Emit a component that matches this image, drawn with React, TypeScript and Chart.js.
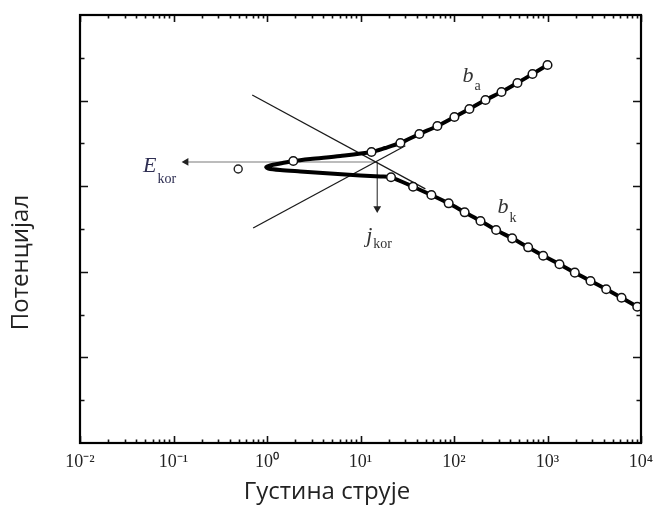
import React, { useEffect, useRef } from "react";
import { Chart, registerables } from "chart.js";

Chart.register(...registerables);

// ---- axes ----
const xDecades = [0.01, 0.1, 1, 10, 100, 1000, 10000];
const xTickLabels = ["10⁻²", "10⁻¹", "10⁰", "10¹", "10²", "10³", "10⁴"];
const xMinorMultipliers = [2, 3, 4, 5, 6, 7, 8, 9];
const yMajorTicks = [1, 2, 3, 4];
const yMinorTicks = [0.5, 1.5, 2.5, 3.5, 4.5];

// ---- measured points (open circles) ----
const anodicX = [1.91, 13.1, 26.7, 42.6, 66.4, 101, 146, 217, 322, 477, 691, 1000];
const anodicY = [3.294, 3.4, 3.505, 3.61, 3.703, 3.808, 3.902, 4.007, 4.1, 4.206, 4.311, 4.416];
const cathodicX = [21.2, 36.5, 57.3, 87.7, 130, 192, 282, 419, 621, 899, 1343, 1959, 2884, 4246, 6194, 9120];
const cathodicY = [3.104, 2.994, 2.897, 2.8, 2.695, 2.593, 2.488, 2.391, 2.286, 2.188, 2.088, 1.99, 1.893, 1.796, 1.697, 1.592];
const strayX = [0.492];
const strayY = [3.201];

// ---- thick polarisation curve (upper branch -> nose -> lower branch) ----
const curveX = [1000, 691, 477, 322, 217, 146, 101, 66.4, 42.6, 26.7, 18.4, 13.1, 6.08, 2.9, 1.91, 1.38, 1.08, 0.98, 1.03, 1.38, 2.27, 4.75, 9.96, 16.3,
  21.2, 36.5, 57.3, 87.7, 130, 192, 282, 419, 621, 899, 1343, 1959, 2884, 4246, 6194, 9120];
const curveY = [4.416, 4.311, 4.206, 4.1, 4.007, 3.902, 3.808, 3.703, 3.61, 3.505, 3.446, 3.4, 3.353, 3.318, 3.294, 3.265, 3.242, 3.224, 3.207, 3.189, 3.172, 3.148, 3.125, 3.113,
  3.104, 2.994, 2.897, 2.8, 2.695, 2.593, 2.488, 2.391, 2.286, 2.188, 2.088, 1.99, 1.893, 1.796, 1.697, 1.592];

// ---- Tafel extrapolation lines ----
const tafelCathodicX = [0.695, 49.4];
const tafelCathodicY = [4.065, 2.968];
const tafelAnodicX = [0.711, 30.2];
const tafelAnodicY = [2.512, 3.472];

// ---- arrows (E_kor, j_kor) ----
const eArrowX = [15.1, 0.1365];
const eArrowY = [3.283, 3.283];
const jArrowX = [15.1, 15.1];
const jArrowY = [3.283, 2.74];

// ---- annotations ----
const annMain = ["E", "j", "b", "b"];
const annSub = ["kor", "kor", "a", "k"];
const annX = [0.0473, 11.5, 123, 292];
const annY = [3.166, 2.348, 4.217, 2.687];
const annDrop = [11, 6, 8, 9];

const xTitle = "Густина струје";
const yTitle = "Потенцијал";

const pts = (xs: number[], ys: number[]) => xs.map((x, i) => ({ x, y: ys[i] }));

const TITLE_SIZE = 24;
const SUB_PAD_TOP = 7;
const TITLE_PAD_BOTTOM = 3;

const framePlugin = {
  id: "frameTicks",
  afterDraw(chart: any) {
    const { ctx, chartArea } = chart;
    const { left, right, top, bottom } = chartArea;
    const xs = chart.scales.x;
    const ys = chart.scales.y;
    ctx.save();
    ctx.strokeStyle = "#111";
    ctx.lineWidth = 1.6;
    const major = 7;
    const minor = 3.5;
    ctx.beginPath();
    xDecades.forEach((d, i) => {
      const px = Math.round(xs.getPixelForValue(d)) + 0.5;
      ctx.moveTo(px, bottom);
      ctx.lineTo(px, bottom - major);
      ctx.moveTo(px, top);
      ctx.lineTo(px, top + major);
      if (i < xDecades.length - 1) {
        xMinorMultipliers.forEach((k) => {
          const mx = Math.round(xs.getPixelForValue(d * k)) + 0.5;
          ctx.moveTo(mx, bottom);
          ctx.lineTo(mx, bottom - minor);
          ctx.moveTo(mx, top);
          ctx.lineTo(mx, top + minor);
        });
      }
    });
    yMajorTicks.forEach((v) => {
      const py = Math.round(ys.getPixelForValue(v)) + 0.5;
      ctx.moveTo(left, py);
      ctx.lineTo(left + major + 1, py);
      ctx.moveTo(right, py);
      ctx.lineTo(right - major - 1, py);
    });
    yMinorTicks.forEach((v) => {
      const py = Math.round(ys.getPixelForValue(v)) + 0.5;
      ctx.moveTo(left, py);
      ctx.lineTo(left + minor + 1, py);
      ctx.moveTo(right, py);
      ctx.lineTo(right - minor - 1, py);
    });
    ctx.stroke();
    ctx.lineWidth = 2.2;
    ctx.strokeStyle = "#000";
    ctx.strokeRect(left, top, right - left, bottom - top);

    // annotations
    ctx.textBaseline = "alphabetic";
    ctx.textAlign = "left";
    annMain.forEach((m, i) => {
      const px = xs.getPixelForValue(annX[i]);
      const py = ys.getPixelForValue(annY[i]);
      ctx.fillStyle = i === 0 ? "#2e2e52" : "#333";
      ctx.font = 'italic 22px "Liberation Serif", serif';
      ctx.fillText(m, px, py);
      const w = ctx.measureText(m).width;
      ctx.font = '14px "Liberation Serif", serif';
      ctx.fillText(annSub[i], px + w + 1, py + annDrop[i]);
    });
    ctx.restore();
  },
};

export default function App() {
  const ref = useRef<HTMLCanvasElement | null>(null);
  useEffect(() => {
    if (!ref.current) return;
    const subWidth = TITLE_SIZE * 1.2 + SUB_PAD_TOP;
    const titleHeight = TITLE_SIZE * 1.2 + TITLE_PAD_BOTTOM;
    const chart = new Chart(ref.current, {
      type: "scatter",
      data: {
        datasets: [
          {
            data: pts(anodicX, anodicY),
            showLine: false,
            pointRadius: 4.3,
            pointBackgroundColor: "#fff",
            pointBorderColor: "#111",
            pointBorderWidth: 1.5,
          },
          {
            data: pts(cathodicX, cathodicY),
            showLine: false,
            pointRadius: 4.3,
            pointBackgroundColor: "#fff",
            pointBorderColor: "#111",
            pointBorderWidth: 1.5,
          },
          {
            data: pts(strayX, strayY),
            showLine: false,
            pointRadius: 4,
            pointBackgroundColor: "#fff",
            pointBorderColor: "#222",
            pointBorderWidth: 1.4,
          },
          {
            data: pts(curveX, curveY),
            showLine: true,
            borderColor: "#000",
            borderWidth: 4,
            pointRadius: 0,
            tension: 0.3,
          },
          {
            data: pts(tafelCathodicX, tafelCathodicY),
            showLine: true,
            borderColor: "#1a1a1a",
            borderWidth: 1.3,
            pointRadius: 0,
          },
          {
            data: pts(tafelAnodicX, tafelAnodicY),
            showLine: true,
            borderColor: "#1a1a1a",
            borderWidth: 1.3,
            pointRadius: 0,
          },
          {
            data: pts(eArrowX, eArrowY),
            showLine: true,
            borderColor: "#7a7a7a",
            borderWidth: 1.2,
            pointRadius: (c: any) => (c.dataIndex === 1 ? 4.5 : 0),
            pointStyle: "triangle",
            rotation: 270,
            pointBackgroundColor: "#222",
            pointBorderColor: "#222",
            pointBorderWidth: 0,
          },
          {
            data: pts(jArrowX, jArrowY),
            showLine: true,
            borderColor: "#444",
            borderWidth: 1.2,
            pointRadius: (c: any) => (c.dataIndex === 1 ? 4.5 : 0),
            pointStyle: "triangle",
            rotation: 180,
            pointBackgroundColor: "#222",
            pointBorderColor: "#222",
            pointBorderWidth: 0,
          },
        ],
      },
      options: {
        responsive: false,
        animation: false,
        layout: { padding: { top: 15, left: 0, right: 0, bottom: 0 } },
        plugins: {
          legend: { display: false },
          tooltip: { enabled: false },
          title: {
            display: true,
            text: xTitle,
            position: "bottom",
            color: "#222",
            font: { family: "'Open Sans', sans-serif", size: TITLE_SIZE, weight: "normal" },
            padding: { top: 0, bottom: TITLE_PAD_BOTTOM },
          },
          subtitle: {
            display: true,
            text: yTitle,
            position: "left",
            color: "#222",
            font: { family: "'Open Sans', sans-serif", size: TITLE_SIZE, weight: "normal" },
            padding: { top: SUB_PAD_TOP, bottom: 0 },
          },
        },
        scales: {
          x: {
            type: "logarithmic",
            min: 0.01,
            max: 10000,
            position: "bottom",
            grid: { display: false, drawTicks: false },
            border: { display: false },
            ticks: {
              autoSkip: false,
              maxRotation: 0,
              padding: 8,
              color: "#222",
              font: { family: "'Liberation Serif', serif", size: 18 },
              callback: (_v: any, i: number) => xTickLabels[i],
            },
            afterBuildTicks: (s: any) => {
              s.ticks = xDecades.map((v) => ({ value: v }));
            },
            afterFit: (s: any) => {
              s.height = 510 - titleHeight - 443;
              s.paddingLeft = 0;
              s.paddingRight = 0;
            },
          },
          y: {
            type: "linear",
            min: 0,
            max: 5,
            position: "left",
            ticks: { display: false },
            grid: { display: false, drawTicks: false },
            border: { display: false },
            afterFit: (s: any) => {
              s.width = 80 - subWidth;
            },
          },
          y2: {
            type: "linear",
            position: "right",
            ticks: { display: false },
            grid: { display: false, drawTicks: false },
            border: { display: false },
            afterFit: (s: any) => {
              s.width = 13;
            },
          },
        },
      } as any,
      plugins: [framePlugin],
    });
    return () => chart.destroy();
  }, []);
  return (
    <div style={{ position: "fixed", left: 0, top: 0, width: 654, height: 510, background: "#fff" }}>
      <canvas ref={ref} width={654} height={510} />
    </div>
  );
}
